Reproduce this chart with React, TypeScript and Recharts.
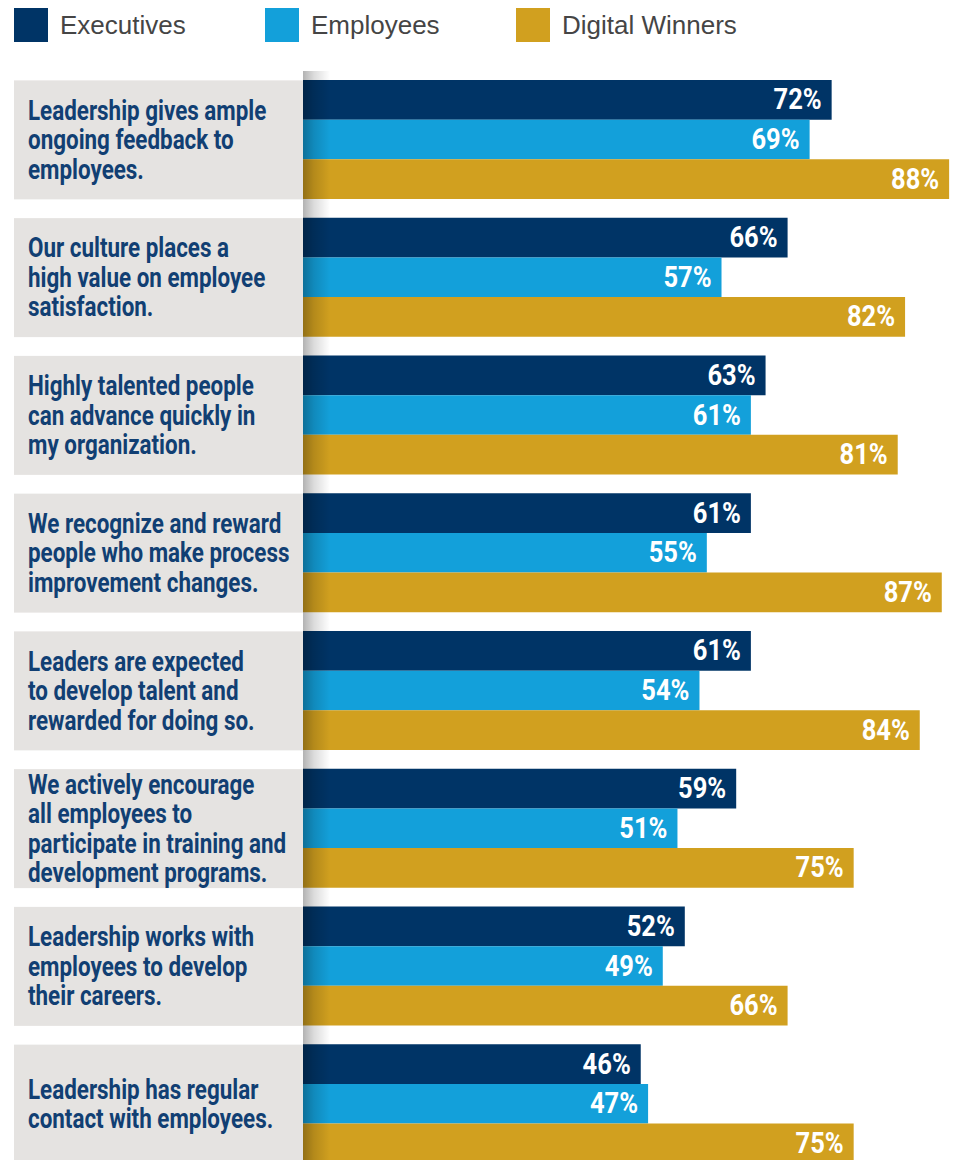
import { Bar, BarChart, LabelList, ReferenceArea, XAxis, YAxis } from 'recharts'

const categories = [
  ['Leadership gives ample', 'ongoing feedback to', 'employees.'],
  ['Our culture places a', 'high value on employee', 'satisfaction.'],
  ['Highly talented people', 'can advance quickly in', 'my organization.'],
  ['We recognize and reward', 'people who make process', 'improvement changes.'],
  ['Leaders are expected', 'to develop talent and', 'rewarded for doing so.'],
  ['We actively encourage', 'all employees to', 'participate in training and', 'development programs.'],
  ['Leadership works with', 'employees to develop', 'their careers.'],
  ['Leadership has regular', 'contact with employees.'],
]

const executives = [72, 66, 63, 61, 61, 59, 52, 46]
const employees = [69, 57, 61, 55, 54, 51, 49, 47]
const digitalWinners = [88, 82, 81, 87, 84, 75, 66, 75]

const series = [
  { key: 'executives', name: 'Executives', color: '#003466' },
  { key: 'employees', name: 'Employees', color: '#13a0da' },
  { key: 'digitalWinners', name: 'Digital Winners', color: '#d1a01f' },
]

const data = categories.map((lines, i) => ({
  label: lines.join('\n'),
  executives: executives[i],
  employees: employees[i],
  digitalWinners: digitalWinners[i],
}))

// no condensed face installed, so Roboto Bold gets squeezed horizontally
const condensed = 'Roboto, sans-serif'

function CategoryTick(props: any) {
  const { x, y, payload } = props
  const lines = String(payload.value).split('\n')
  const lineHeight = 29.5
  const boxLeft = 14
  const boxHeight = 119
  const top = y - ((lines.length - 1) * lineHeight) / 2
  return (
    <g>
      <rect x={boxLeft} y={y - boxHeight / 2} width={x - boxLeft} height={boxHeight} fill="#e5e3e1" />
      {lines.map((line, i) => (
        <text
          key={i}
          transform={`translate(28, ${top + i * lineHeight}) scale(0.83, 1)`}
          dominantBaseline="central"
          fill="#113f73"
          fontFamily={condensed}
          fontWeight="bold"
          fontSize={27}
        >
          {line}
        </text>
      ))}
    </g>
  )
}

function ValueLabel(props: any) {
  const { x, y, width, height, value } = props
  return (
    <text
      transform={`translate(${x + width - 10}, ${y + height / 2}) scale(0.88, 1)`}
      textAnchor="end"
      dominantBaseline="central"
      fill="#fff"
      fontFamily={condensed}
      fontWeight="bold"
      fontSize={29}
    >
      {`${value}%`}
    </text>
  )
}

export default function App() {
  return (
    <div style={{ position: 'absolute', left: 0, top: 0, width: 955, height: 1160, overflow: 'hidden', background: '#fff' }}>
      <div style={{ position: 'absolute', left: 14, top: 8, display: 'flex' }}>
        {series.map((s) => (
          <div key={s.key} style={{ width: 251, display: 'flex', alignItems: 'center' }}>
            <div style={{ width: 34, height: 34, background: s.color, marginRight: 12 }} />
            <span style={{ fontFamily: "'Liberation Sans', Arial, sans-serif", fontSize: 26, color: '#454545' }}>
              {s.name}
            </span>
          </div>
        ))}
      </div>
      <BarChart
        width={955}
        height={1173}
        data={data}
        layout="vertical"
        margin={{ top: 71, right: 0, bottom: 0, left: 0 }}
        barGap={0}
        barSize={39.67}
      >
        <defs>
          <linearGradient id="leftShade" x1="0" y1="0" x2="1" y2="0">
            <stop offset="0%" stopColor="#000" stopOpacity={0.3} />
            <stop offset="40%" stopColor="#000" stopOpacity={0.14} />
            <stop offset="100%" stopColor="#000" stopOpacity={0} />
          </linearGradient>
        </defs>
        <XAxis type="number" domain={[0, 88.8]} hide />
        <YAxis
          type="category"
          dataKey="label"
          width={303}
          axisLine={false}
          tickLine={false}
          tickSize={0}
          tickMargin={0}
          interval={0}
          tick={<CategoryTick />}
        />
        {series.map((s) => (
          <Bar key={s.key} dataKey={s.key} name={s.name} fill={s.color} isAnimationActive={false}>
            <LabelList dataKey={s.key} content={<ValueLabel />} />
          </Bar>
        ))}
        <ReferenceArea
          x1={0}
          x2={3.7}
          fill="url(#leftShade)"
          fillOpacity={1}
          stroke="none"
          ifOverflow="visible"
          zIndex={1500}
        />
      </BarChart>
    </div>
  )
}
